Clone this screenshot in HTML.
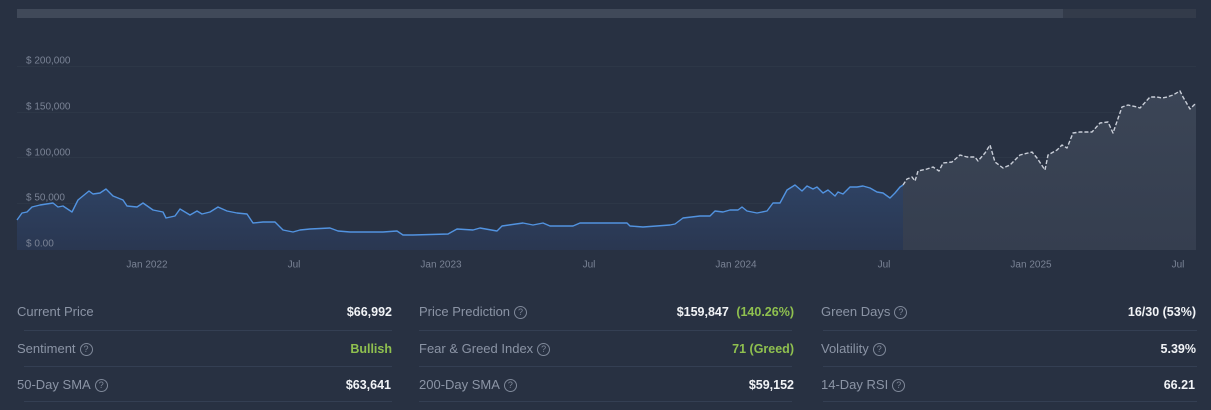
<!DOCTYPE html>
<html><head><meta charset="utf-8"><style>
*{margin:0;padding:0;box-sizing:border-box}
html,body{width:1211px;height:410px;overflow:hidden;background:#283142;font-family:"Liberation Sans",Arial,sans-serif}
#c{position:absolute;left:0;top:0}
.lab{position:absolute;font-size:13px;color:#8b94a5;line-height:16px;white-space:nowrap}
.val{position:absolute;font-size:12.5px;color:#f1f3f6;font-weight:bold;line-height:16px;text-align:right;white-space:nowrap}
.g{color:#8fc04f}
.q{display:inline-block;width:13px;height:13px;border:1px solid #7f8899;border-radius:50%;font-size:9px;line-height:11px;text-align:center;vertical-align:top;margin-top:2px;margin-left:4px;font-weight:normal;color:#7f8899}
.sep{position:absolute;height:1px;background:#343f53}
</style></head><body>
<svg id="c" width="1211" height="280" viewBox="0 0 1211 280">
<defs>
<linearGradient id="hf" x1="0" y1="0" x2="0" y2="1">
<stop offset="0" stop-color="#2e4263"/><stop offset="1" stop-color="#2a3751"/></linearGradient>
<linearGradient id="pf" x1="0" y1="0" x2="0" y2="1">
<stop offset="0" stop-color="#3b4556"/><stop offset="1" stop-color="#353e4f"/></linearGradient>
</defs>
<rect x="17" y="9" width="1046" height="9" fill="#404959"/>
<rect x="1063" y="9" width="133" height="9" fill="#333b4a"/>
<g stroke="#2d3747" stroke-width="1">
<line x1="17" y1="66.5" x2="1196" y2="66.5"/>
<line x1="17" y1="112.5" x2="1196" y2="112.5"/>
<line x1="17" y1="157.5" x2="1196" y2="157.5"/>
<line x1="17" y1="203.5" x2="1196" y2="203.5"/>
</g>
<path fill="url(#hf)" d="M17,220 L22,213 27,212 32,207 40,205 53,203 58,207 63,206 72,212 78,200 89,191 93,194 100,193 106,189 113,196 123,200 127,206 137,207 143,203 153,210 163,212 166,218 175,216 180,209 190,215 197,211 202,214 210,212 218,207 227,211 237,213 247,214 253,223 263,222 275,222 283,230 293,232 300,230 310,229 330,228 338,231 350,232 367,232 383,232 397,231 403,235 413,235 448,234 457,229 473,230 480,228 497,231 502,226 523,223 533,225 543,223 550,226 573,226 580,223 613,223 627,223 630,226 643,227 670,225 675,224 683,218 700,216 710,216 715,211 723,212 730,210 738,210 742,207 747,211 757,213 767,211 773,203 780,203 787,190 795,185 802,191 807,186 813,189 817,187 823,193 828,190 835,196 838,192 843,194 850,187 857,187 863,186 870,188 877,192 883,193 890,198 895,193 900,187 903,185 L903,250 L17,250Z"/>
<path fill="url(#pf)" d="M903,185 L907,179 912,177 915,181 918,171 927,169 933,167 939,171 943,163 952,162 960,155 967,157 975,157 978,161 985,153 990,145 995,162 1003,168 1010,165 1020,155 1032,152 1037,158 1045,170 1048,155 1057,150 1062,145 1067,148 1073,133 1080,132 1092,132 1100,123 1108,122 1113,133 1122,107 1128,105 1137,107 1140,108 1150,97 1157,97 1162,98 1167,97 1173,95 1180,91 1183,97 1190,109 1196,103 L1196,250 L903,250Z"/>
<polyline fill="none" stroke="#5293e0" stroke-width="1.4" stroke-linejoin="round" points="17,220 22,213 27,212 32,207 40,205 53,203 58,207 63,206 72,212 78,200 89,191 93,194 100,193 106,189 113,196 123,200 127,206 137,207 143,203 153,210 163,212 166,218 175,216 180,209 190,215 197,211 202,214 210,212 218,207 227,211 237,213 247,214 253,223 263,222 275,222 283,230 293,232 300,230 310,229 330,228 338,231 350,232 367,232 383,232 397,231 403,235 413,235 448,234 457,229 473,230 480,228 497,231 502,226 523,223 533,225 543,223 550,226 573,226 580,223 613,223 627,223 630,226 643,227 670,225 675,224 683,218 700,216 710,216 715,211 723,212 730,210 738,210 742,207 747,211 757,213 767,211 773,203 780,203 787,190 795,185 802,191 807,186 813,189 817,187 823,193 828,190 835,196 838,192 843,194 850,187 857,187 863,186 870,188 877,192 883,193 890,198 895,193 900,187 903,185"/>
<polyline fill="none" stroke="#c9ced8" stroke-width="1.4" stroke-dasharray="4 2" stroke-linejoin="round" points="903,185 907,179 912,177 915,181 918,171 927,169 933,167 939,171 943,163 952,162 960,155 967,157 975,157 978,161 985,153 990,145 995,162 1003,168 1010,165 1020,155 1032,152 1037,158 1045,170 1048,155 1057,150 1062,145 1067,148 1073,133 1080,132 1092,132 1100,123 1108,122 1113,133 1122,107 1128,105 1137,107 1140,108 1150,97 1157,97 1162,98 1167,97 1173,95 1180,91 1183,97 1190,109 1196,103"/>
<g font-family="Liberation Sans, Arial, sans-serif" font-size="10" fill="#7a8395">
<text x="26" y="63.5">$ 200,000</text>
<text x="26" y="109.5">$ 150,000</text>
<text x="26" y="155.5">$ 100,000</text>
<text x="26" y="200.5">$ 50,000</text>
<text x="26" y="246.5">$ 0.00</text>
</g>
<g font-family="Liberation Sans, Arial, sans-serif" font-size="10" fill="#7a8395" text-anchor="middle">
<text x="147" y="267.5">Jan 2022</text>
<text x="294" y="267.5">Jul</text>
<text x="441" y="267.5">Jan 2023</text>
<text x="589" y="267.5">Jul</text>
<text x="736" y="267.5">Jan 2024</text>
<text x="884" y="267.5">Jul</text>
<text x="1031" y="267.5">Jan 2025</text>
<text x="1178" y="267.5">Jul</text>
</g>
</svg>

<div class="lab" style="left:17px;top:304px">Current Price</div>
<div class="val" style="right:819px;top:304px">$66,992</div>
<div class="sep" style="left:24px;width:368px;top:330px"></div>
<div class="lab" style="left:17px;top:341px">Sentiment<span class="q">?</span></div>
<div class="val g" style="right:819px;top:341px">Bullish</div>
<div class="sep" style="left:24px;width:368px;top:366px"></div>
<div class="lab" style="left:17px;top:377px">50-Day SMA<span class="q">?</span></div>
<div class="val" style="right:820px;top:377px">$63,641</div>
<div class="sep" style="left:24px;width:368px;top:401px"></div>

<div class="lab" style="left:419px;top:304px">Price Prediction<span class="q">?</span></div>
<div class="val" style="right:417px;top:304px">$159,847 <span class="g" style="margin-left:4px">(140.26%)</span></div>
<div class="sep" style="left:419px;width:373px;top:330px"></div>
<div class="lab" style="left:419px;top:341px">Fear &amp; Greed Index<span class="q">?</span></div>
<div class="val g" style="right:417px;top:341px">71 (Greed)</div>
<div class="sep" style="left:419px;width:373px;top:366px"></div>
<div class="lab" style="left:419px;top:377px">200-Day SMA<span class="q">?</span></div>
<div class="val" style="right:417px;top:377px">$59,152</div>
<div class="sep" style="left:419px;width:373px;top:401px"></div>

<div class="lab" style="left:821px;top:304px">Green Days<span class="q">?</span></div>
<div class="val" style="right:15px;top:304px">16/30 (53%)</div>
<div class="sep" style="left:823px;width:374px;top:330px"></div>
<div class="lab" style="left:821px;top:341px">Volatility<span class="q">?</span></div>
<div class="val" style="right:15px;top:341px">5.39%</div>
<div class="sep" style="left:823px;width:374px;top:366px"></div>
<div class="lab" style="left:821px;top:377px">14-Day RSI<span class="q">?</span></div>
<div class="val" style="right:16px;top:377px">66.21</div>
<div class="sep" style="left:823px;width:374px;top:401px"></div>
</body></html>
